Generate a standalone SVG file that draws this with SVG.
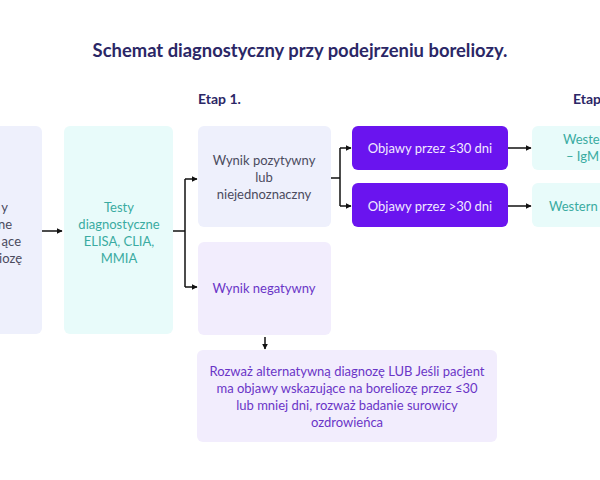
<svg xmlns="http://www.w3.org/2000/svg" width="600" height="480" viewBox="0 0 600 480">
<defs>
<marker id="ah" viewBox="0 0 10 10" refX="9" refY="5" markerWidth="6" markerHeight="6" markerUnits="userSpaceOnUse" orient="auto"><path d="M0,0 L10,5 L0,10 z" fill="#111"/></marker>
</defs>
<style>
text{font-family:"Lato","Liberation Sans",sans-serif;font-size:13px}
.title{font-size:18.4px;font-weight:bold;fill:#2b2766}
.etap{font-size:14px;font-weight:bold;fill:#2b2766}
.lav{fill:#eef0fc}
.cyan{fill:#e8fbfa}
.pur{fill:#6a14ef}
.lpur{fill:#f2edfd}
.tg{fill:#4b4b5e}
.tt{fill:#3aaba1}
.tw{fill:#f1e9ff}
.tp{fill:#6a35c7}
.c{text-anchor:middle}
.conn path{fill:none;stroke:#111;stroke-width:1.5}
</style>
<rect width="600" height="480" fill="#ffffff"/>
<text class="title c" x="300" y="57">Schemat diagnostyczny przy podejrzeniu boreliozy.</text>
<text class="etap" x="198" y="104">Etap 1.</text>
<text class="etap" x="573" y="104">Etap 2.</text>

<g id="node-objawy">
<rect class="lav" x="-60" y="126" width="102" height="208" rx="6"/>
<text class="tg" text-anchor="end" x="8" y="212">y</text>
<text class="tg" text-anchor="end" x="12" y="229">ne</text>
<text class="tg" text-anchor="end" x="21" y="246">ące</text>
<text class="tg" text-anchor="end" x="22" y="263">iozę</text>
</g>
<g id="node-testy">
<rect class="cyan" x="64" y="126" width="109" height="208" rx="6"/>
<text class="tt c" x="119" y="212">Testy</text>
<text class="tt c" x="119" y="229">diagnostyczne</text>
<text class="tt c" x="119" y="246">ELISA, CLIA,</text>
<text class="tt c" x="119" y="263">MMIA</text>
</g>
<g id="node-pozytywny">
<rect class="lav" x="198" y="126" width="133" height="101" rx="6"/>
<text class="tg c" x="264" y="165">Wynik pozytywny</text>
<text class="tg c" x="264" y="182">lub</text>
<text class="tg c" x="264" y="199">niejednoznaczny</text>
</g>
<g id="node-negatywny">
<rect class="lpur" x="198" y="242" width="133" height="93" rx="6"/>
<text class="tp c" x="264" y="293">Wynik negatywny</text>
</g>
<g id="node-rozwaz">
<rect class="lpur" x="197" y="350" width="300" height="92" rx="6"/>
<text class="tp c" x="347" y="376">Rozważ alternatywną diagnozę LUB Jeśli pacjent</text>
<text class="tp c" x="347" y="393">ma objawy wskazujące na boreliozę przez ≤30</text>
<text class="tp c" x="347" y="410">lub mniej dni, rozważ badanie surowicy</text>
<text class="tp c" x="347" y="427">ozdrowieńca</text>
</g>
<g id="node-le30">
<rect class="pur" x="352" y="126" width="156" height="44" rx="6"/>
<text class="tw c" x="430" y="152.5">Objawy przez ≤30 dni</text>
</g>
<g id="node-gt30">
<rect class="pur" x="352" y="183" width="156" height="44" rx="6"/>
<text class="tw c" x="430" y="210.5">Objawy przez &gt;30 dni</text>
</g>
<g id="node-wb1">
<rect class="cyan" x="532" y="126" width="110" height="44" rx="6"/>
<text class="tt" x="563" y="144">Western blot</text>
<text class="tt" x="566" y="161">– IgM lub IgG</text>
</g>
<g id="node-wb2">
<rect class="cyan" x="532" y="183" width="110" height="44" rx="6"/>
<text class="tt" x="549" y="210.5">Western blot – IgG</text>
</g>

<g class="conn" id="connectors">
<path d="M42,231 H62" marker-end="url(#ah)"/>
<path d="M173,231 H185"/>
<path d="M185,179 V287"/>
<path d="M185,179 H197" marker-end="url(#ah)"/>
<path d="M185,287 H197" marker-end="url(#ah)"/>
<path d="M331,178 H340"/>
<path d="M340,148 V206"/>
<path d="M340,148 H351" marker-end="url(#ah)"/>
<path d="M340,206 H351" marker-end="url(#ah)"/>
<path d="M508,148 H531" marker-end="url(#ah)"/>
<path d="M508,206 H531" marker-end="url(#ah)"/>
<path d="M265,337 V349" marker-end="url(#ah)"/>
</g>
</svg>
